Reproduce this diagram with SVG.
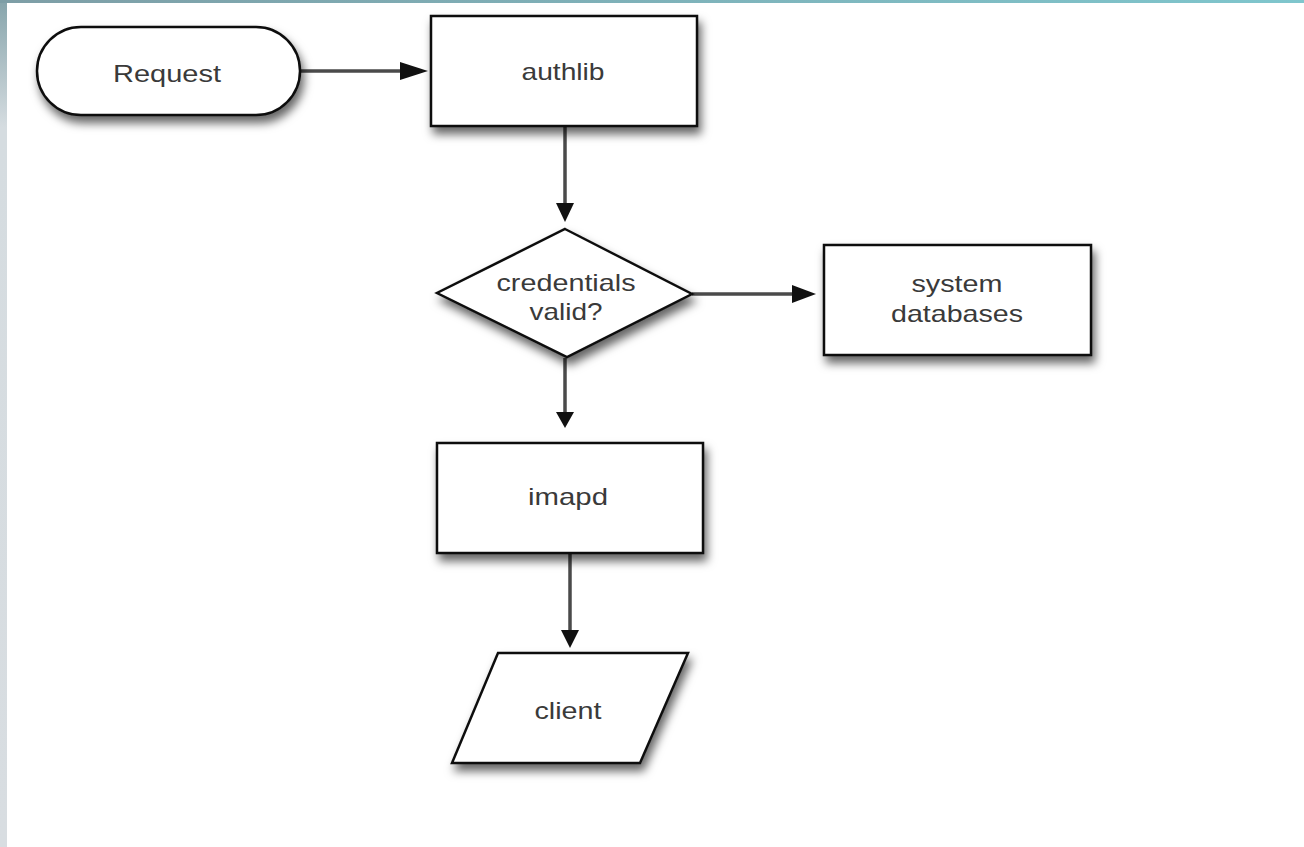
<svg xmlns="http://www.w3.org/2000/svg" width="1304" height="847" viewBox="0 0 1304 847">
<defs>
<linearGradient id="topband" x1="0" y1="0" x2="1" y2="0">
<stop offset="0" stop-color="#7e9ea6"/>
<stop offset="1" stop-color="#7fc6cd"/>
</linearGradient>
<linearGradient id="leftband" x1="0" y1="0" x2="0" y2="1">
<stop offset="0" stop-color="#86a4ab"/>
<stop offset="0.15" stop-color="#d5dce0"/>
<stop offset="1" stop-color="#d8dde1"/>
</linearGradient>
<filter id="shadow" x="-20%" y="-30%" width="140%" height="180%">
<feDropShadow dx="3" dy="7" stdDeviation="5" flood-color="#000" flood-opacity="0.6"/>
</filter>
<style>
.node { fill: #ffffff; stroke: #111; stroke-width: 2.5; filter: url(#shadow); }
.label { font-family: "Liberation Sans", Arial, sans-serif; font-size: 24px; fill: #3a3a3a; text-anchor: middle; }
.conn { stroke: #4a4a4a; stroke-width: 3.5; fill: none; }
.head { fill: #111; }
</style>
</defs>
<rect x="0" y="0" width="1304" height="847" fill="#ffffff"/>
<rect x="0" y="0" width="7" height="847" fill="url(#leftband)"/>
<rect x="0" y="0" width="1304" height="3" fill="url(#topband)"/>

<g id="connectors">
<line class="conn" x1="300" y1="71" x2="402" y2="71"/>
<polygon class="head" points="400,62 428,71 400,80"/>
<line class="conn" x1="565" y1="126" x2="565" y2="205"/>
<polygon class="head" points="556,203 565,222 574,203"/>
<line class="conn" x1="692" y1="294" x2="794" y2="294"/>
<polygon class="head" points="792,285 816,294 792,303"/>
<line class="conn" x1="565" y1="358" x2="565" y2="414"/>
<polygon class="head" points="556,412 565,428 574,412"/>
<line class="conn" x1="570" y1="553" x2="570" y2="632"/>
<polygon class="head" points="561,630 570,648 579,630"/>
</g>

<g id="request">
<rect class="node" x="37" y="27" width="263" height="88" rx="44" ry="44"/>
<text class="label" x="167" y="82" textLength="108" lengthAdjust="spacingAndGlyphs">Request</text>
</g>
<g id="authlib">
<rect class="node" x="431" y="16" width="266" height="110"/>
<text class="label" x="563" y="80" textLength="83" lengthAdjust="spacingAndGlyphs">authlib</text>
</g>
<g id="credentials">
<polygon class="node" points="565,229 692,294 567,357 437,293"/>
<text class="label" x="566" y="291" textLength="139" lengthAdjust="spacingAndGlyphs">credentials</text>
<text class="label" x="566" y="320" textLength="73" lengthAdjust="spacingAndGlyphs">valid?</text>
</g>
<g id="system-databases">
<rect class="node" x="824" y="245" width="267" height="110"/>
<text class="label" x="957" y="292" textLength="91" lengthAdjust="spacingAndGlyphs">system</text>
<text class="label" x="957" y="322" textLength="132" lengthAdjust="spacingAndGlyphs">databases</text>
</g>
<g id="imapd">
<rect class="node" x="437" y="443" width="266" height="110"/>
<text class="label" x="568" y="505" textLength="80" lengthAdjust="spacingAndGlyphs">imapd</text>
</g>
<g id="client">
<polygon class="node" points="498,653 688,653 640,763 452,763"/>
<text class="label" x="568" y="719" textLength="67" lengthAdjust="spacingAndGlyphs">client</text>
</g>
</svg>
